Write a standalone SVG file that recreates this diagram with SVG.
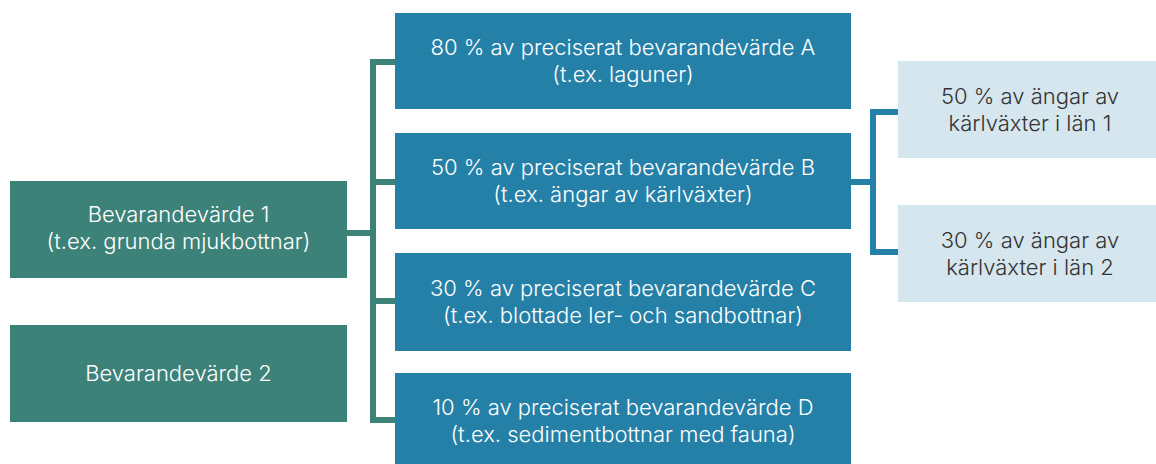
<svg xmlns="http://www.w3.org/2000/svg" width="1156" height="464" viewBox="0 0 1156 464">
<style>
.g{fill:#3d8279}
.b{fill:#2580a8}
.l{fill:#d5e6ee}
text{font-family:Inter,"Noto Sans",sans-serif;font-size:22px;font-weight:300;text-anchor:middle}
.w{fill:#ffffff}
.d{fill:#333333}
.cg{fill:none;stroke:#3d8279;stroke-width:6}
.cb{fill:none;stroke:#2580a8;stroke-width:6}
</style>
<rect width="1156" height="464" fill="#ffffff"/>
<g id="connectors">
<path class="cg" d="M347 233H373M396 62H373V420H396M373 182H396M373 301H396"/>
<path class="cb" d="M851 182H873M898 112H873V252H898"/>
</g>
<g id="bv1"><rect class="g" x="10" y="181" width="337" height="97"/><text class="w" x="178.5" y="222">Bevarandevärde 1</text><text class="w" x="178.5" y="249">(t.ex. grunda mjukbottnar)</text></g>
<g id="bv2"><rect class="g" x="10" y="325" width="337" height="97"/><text class="w" x="178.5" y="381">Bevarandevärde 2</text></g>
<g id="a"><rect class="b" x="395" y="13" width="456" height="96"/><text class="w" x="623" y="55">80 % av preciserat bevarandevärde A</text><text class="w" x="623" y="82">(t.ex. laguner)</text></g>
<g id="b"><rect class="b" x="395" y="133" width="456" height="96"/><text class="w" x="623" y="175">50 % av preciserat bevarandevärde B</text><text class="w" x="623" y="202">(t.ex. ängar av kärlväxter)</text></g>
<g id="c"><rect class="b" x="395" y="253" width="456" height="98"/><text class="w" x="623" y="296">30 % av preciserat bevarandevärde C</text><text class="w" x="623" y="323">(t.ex. blottade ler- och sandbottnar)</text></g>
<g id="dd"><rect class="b" x="395" y="373" width="456" height="91"/><text class="w" x="623" y="415">10 % av preciserat bevarandevärde D</text><text class="w" x="623" y="442">(t.ex. sedimentbottnar med fauna)</text></g>
<g id="l1"><rect class="l" x="898" y="61" width="258" height="97"/><text class="d" x="1030" y="104">50 % av ängar av</text><text class="d" x="1030" y="131">kärlväxter i län 1</text></g>
<g id="l2"><rect class="l" x="898" y="205" width="258" height="97"/><text class="d" x="1030" y="248">30 % av ängar av</text><text class="d" x="1030" y="275">kärlväxter i län 2</text></g>
</svg>
